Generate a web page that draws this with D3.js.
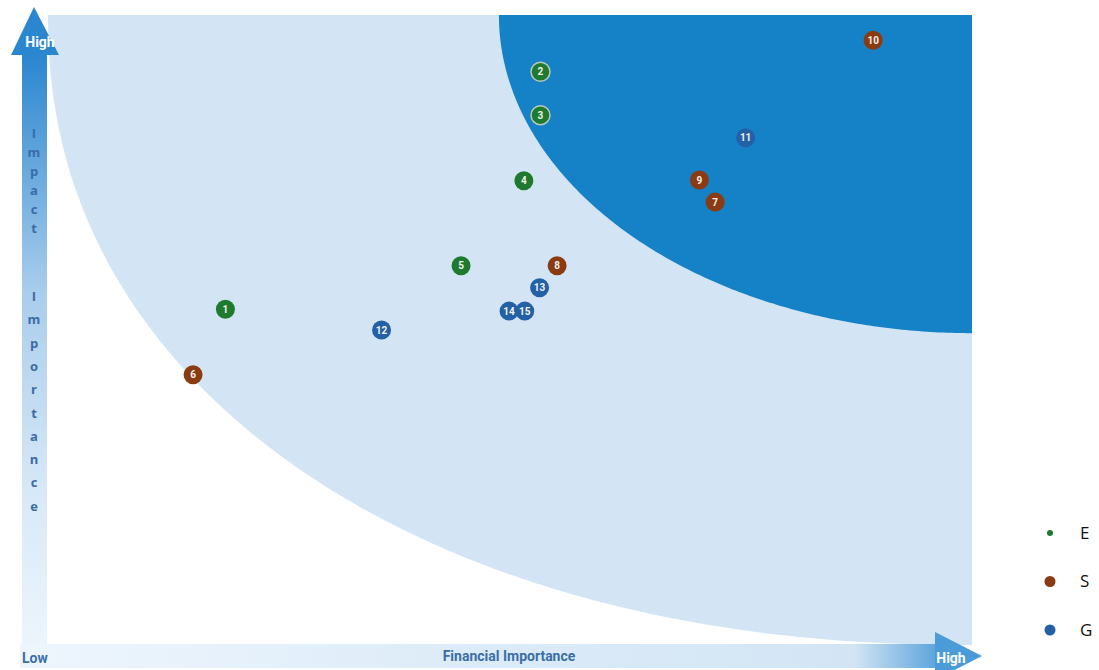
<!DOCTYPE html>
<html>
<head>
<meta charset="utf-8">
<script src="https://cdn.jsdelivr.net/npm/d3@7"></script>
<style>
  body { margin: 0; background: #fff; }
  svg { display: block; }
</style>
</head>
<body>
<svg id="chart" width="1099" height="670"></svg>
<script>
// materiality matrix data (0-10 on both axes)
var ids = [1, 2, 3, 4, 5, 6, 7, 8, 9, 10, 11, 12, 13, 14, 15]
var groups = ['E', 'E', 'E', 'E', 'E', 'S', 'S', 'S', 'S', 'S', 'G', 'G', 'G', 'G', 'G']
var financial = [1.92, 5.33, 5.33, 5.15, 4.47, 1.57, 7.22, 5.51, 7.05, 8.93, 7.55, 3.61, 5.32, 4.99, 5.16]
var impact = [5.33, 9.10, 8.41, 7.37, 6.02, 4.29, 7.03, 6.02, 7.38, 9.60, 8.05, 5.00, 5.67, 5.30, 5.30]
var legendKeys = ['E', 'S', 'G']
var groupColors = { E: '#1e7a2e', S: '#8a3b12', G: '#2360a5' }
// zones: rounded quadrants anchored at top-right (high, high), radii in axis units
var zoneRadiusX = [10, 5.12]
var zoneRadiusY = [10, 5.05]
var zoneShape = [2.15, 2]
var zoneColors = ['#d3e5f5', '#1581c7']

var svg = d3.select('#chart')
var x = d3.scaleLinear().domain([0, 10]).range([48, 972])
var y = d3.scaleLinear().domain([0, 10]).range([645, 15])

var defs = svg.append('defs')
var vg = defs.append('linearGradient').attr('id', 'vgrad')
    .attr('x1', 0).attr('y1', 0).attr('x2', 0).attr('y2', 1)
vg.append('stop').attr('offset', '0%').attr('stop-color', '#2a86cf')
vg.append('stop').attr('offset', '40%').attr('stop-color', '#a9cdeb')
vg.append('stop').attr('offset', '75%').attr('stop-color', '#d9e9f7')
vg.append('stop').attr('offset', '100%').attr('stop-color', '#ecf5fc')
var hg = defs.append('linearGradient').attr('id', 'hgrad')
    .attr('x1', 0).attr('y1', 0).attr('x2', 1).attr('y2', 0)
hg.append('stop').attr('offset', '0%').attr('stop-color', '#eef6fd')
hg.append('stop').attr('offset', '50%').attr('stop-color', '#dcebf8')
hg.append('stop').attr('offset', '91%').attr('stop-color', '#d3e5f5')
hg.append('stop').attr('offset', '100%').attr('stop-color', '#5ea5db')

// zones
zoneRadiusX.forEach(function (rx, i) {
    var ry = zoneRadiusY[i], n = zoneShape[i]
    var pts = d3.range(0, 181).map(function (a) {
        var t = a * Math.PI / 360
        var c = Math.pow(Math.cos(t), 2 / n), s = Math.pow(Math.sin(t), 2 / n)
        return [x(10 - rx * c), y(10 - ry * s)]
    })
    pts.push([x(10), y(10)])
    svg.append('path')
        .attr('d', d3.line()(pts) + 'Z')
        .attr('fill', zoneColors[i])
})

// vertical axis arrow
svg.append('rect').attr('x', 22).attr('y', 54).attr('width', 25).attr('height', 592)
    .attr('fill', 'url(#vgrad)')
svg.append('path').attr('d', 'M34,7 L59,55 L11,55 Z').attr('fill', '#2a86cf')
svg.append('text').attr('x', 40).attr('y', 47).attr('text-anchor', 'middle')
    .attr('class', 'ax').attr('fill', '#fff').text('High')

// horizontal axis arrow
svg.append('rect').attr('x', 20).attr('y', 644).attr('width', 916).attr('height', 24)
    .attr('fill', 'url(#hgrad)')
svg.append('path').attr('d', 'M935,632 L982,656 L935,680 Z').attr('fill', '#4a9bd8')
svg.append('text').attr('x', 951).attr('y', 663).attr('text-anchor', 'middle')
    .attr('class', 'ax').attr('fill', '#fff').text('High')
svg.append('text').attr('x', 22).attr('y', 663)
    .attr('class', 'ax').attr('fill', '#3a6fa6').text('Low')
svg.append('text').attr('x', 509).attr('y', 661).attr('text-anchor', 'middle')
    .attr('class', 'ax').attr('fill', '#3a6fa6').text('Financial Importance')

svg.selectAll('.ax')
    .attr('font-family', '"Liberation Sans Narrow", "Roboto", sans-serif')
    .attr('font-weight', 'bold').attr('font-size', 14)

// vertical axis title, one letter per line
var words = [{ w: 'Impact', start: 138, step: 19 }, { w: 'Importance', start: 301, step: 23.3 }]
words.forEach(function (wd) {
    wd.w.split('').forEach(function (ch, i) {
        svg.append('text')
            .attr('x', 34).attr('y', wd.start + i * wd.step)
            .attr('text-anchor', 'middle')
            .attr('font-family', '"Open Sans", "DejaVu Sans", sans-serif')
            .attr('font-weight', 'bold').attr('font-size', 13)
            .attr('fill', '#3a6ca6')
            .text(ch)
    })
})

// points
var data = ids.map(function (id, i) {
    return { id: id, group: groups[i], fx: financial[i], iy: impact[i] }
})
var pt = svg.selectAll('.pt').data(data).enter().append('g')
    .attr('class', 'pt')
    .attr('transform', function (d) { return 'translate(' + x(d.fx) + ',' + y(d.iy) + ')' })
pt.append('circle').attr('r', 9.5)
    .attr('fill', function (d) { return groupColors[d.group] })
    .attr('stroke', function (d) { return (d.id === 2 || d.id === 3) ? '#b9c9b9' : 'none' })
    .attr('stroke-width', 1.5)
pt.append('text')
    .attr('text-anchor', 'middle').attr('dy', '0.35em')
    .attr('font-family', '"Liberation Sans Narrow", "Roboto", sans-serif')
    .attr('font-weight', 'bold').attr('font-size', 10)
    .attr('fill', '#f4f0ec')
    .text(function (d) { return d.id })

// legend
var lg = svg.selectAll('.lg').data(legendKeys).enter().append('g')
    .attr('class', 'lg')
    .attr('transform', function (d, i) { return 'translate(1050,' + (533 + i * 48.5) + ')' })
lg.append('circle')
    .attr('r', function (d) { return d === 'E' ? 3 : 5.5 })
    .attr('fill', function (d) { return groupColors[d] })
lg.append('text').attr('x', 30).attr('dy', '0.35em')
    .attr('font-family', '"Open Sans", "Noto Sans", sans-serif')
    .attr('font-size', 17).attr('fill', '#111')
    .text(function (d) { return d })
</script>
</body>
</html>
